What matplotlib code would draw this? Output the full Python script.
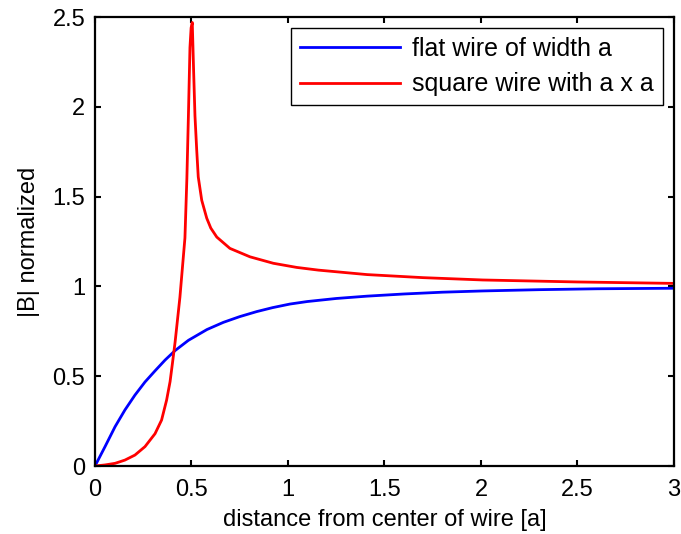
import matplotlib
matplotlib.use('Agg')
import matplotlib.pyplot as plt

plt.rcParams['font.family'] = ['Liberation Sans', 'DejaVu Sans']

# values
flat_x = [0, 0.052, 0.104, 0.155, 0.207, 0.259, 0.311, 0.363, 0.415, 0.484,
          0.58, 0.665, 0.75, 0.838, 0.92, 1.01, 1.1, 1.25, 1.41, 1.6, 1.8,
          2.01, 2.3, 2.6, 3.0]
flat_y = [0, 0.108, 0.219, 0.312, 0.395, 0.468, 0.53, 0.59, 0.643, 0.70,
          0.76, 0.80, 0.832, 0.86, 0.882, 0.902, 0.916, 0.933, 0.946, 0.958, 0.968,
          0.975, 0.982, 0.987, 0.99]

square_x = [0, 0.052, 0.104, 0.155, 0.207, 0.259, 0.311, 0.345, 0.371, 0.389,
            0.401, 0.415, 0.44, 0.466, 0.476, 0.484, 0.492, 0.498, 0.504, 0.511,
            0.518, 0.527, 0.535, 0.553, 0.579, 0.60, 0.631, 0.699, 0.803, 0.924,
            1.045, 1.157, 1.41, 1.7, 2.01, 2.5, 3.0]
square_y = [0, 0.006, 0.015, 0.033, 0.061, 0.108, 0.18, 0.256, 0.367, 0.47,
            0.57, 0.69, 0.94, 1.27, 1.6, 1.95, 2.33, 2.44, 2.47, 2.2,
            1.95, 1.76, 1.61, 1.48, 1.38, 1.325, 1.275, 1.212, 1.165, 1.129,
            1.106, 1.091, 1.066, 1.049, 1.036, 1.025, 1.017]

labels = ['flat wire of width a', 'square wire with a x a']
xticks = [0, 0.5, 1, 1.5, 2, 2.5, 3]
yticks = [0, 0.5, 1, 1.5, 2, 2.5]

fig = plt.figure(figsize=(6.81, 5.34), dpi=100)
ax = fig.add_axes([0.1395, 0.1273, 0.8502, 0.8407])

ax.plot(flat_x, flat_y, color='#0000ff', lw=2, label=labels[0])
ax.plot(square_x, square_y, color='#ff0000', lw=2, label=labels[1])

ax.set_xlim(0, 3)
ax.set_ylim(0, 2.5)
ax.set_xticks(xticks)
ax.set_yticks(yticks)
ax.set_xticklabels(['0', '0.5', '1', '1.5', '2', '2.5', '3'])
ax.set_yticklabels(['0', '0.5', '1', '1.5', '2', '2.5'])
ax.tick_params(direction='in', top=True, right=True, length=4.5, width=1.5,
               labelsize=17)
ax.tick_params(axis='x', pad=9)
ax.tick_params(axis='y', pad=7)
for s in ax.spines.values():
    s.set_linewidth(1.6)

ax.set_xlabel('distance from center of wire [a]', fontsize=17, labelpad=6)
ax.set_ylabel('|B| normalized', fontsize=17, labelpad=9)

leg = ax.legend(loc='upper right', fontsize=18, handlelength=4,
                fancybox=False, framealpha=1, edgecolor='black',
                borderpad=0.35, labelspacing=0.45, handletextpad=0.5,
                borderaxespad=0.45)
leg.get_frame().set_linewidth(1.0)

fig.savefig('out.png', dpi=100)
